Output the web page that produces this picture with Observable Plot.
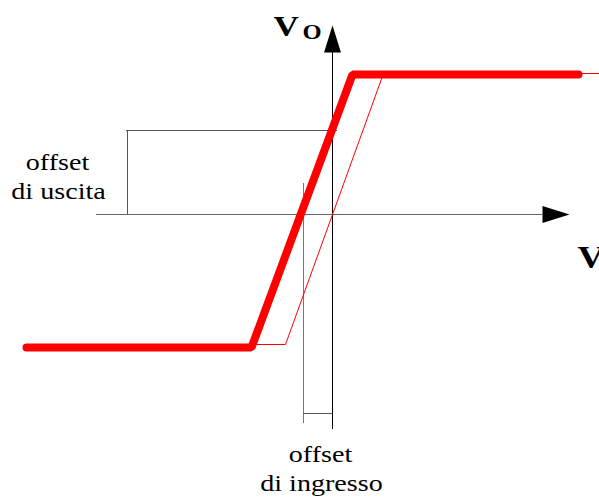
<!DOCTYPE html>
<html>
<head>
<meta charset="utf-8">
<script src="https://cdn.jsdelivr.net/npm/d3@7"></script>
<script src="https://cdn.jsdelivr.net/npm/@observablehq/plot@0.6"></script>
<style>
  html, body { margin: 0; padding: 0; background: #fff; overflow: hidden; }
  svg text { font-family: "Liberation Serif", serif; }
</style>
</head>
<body>
<div id="chart"></div>
<script>
// Transfer characteristic of an op-amp with offsets (units)
const vinIdeal  = [-306, -47, 51, 267];
const voutIdeal = [-130, -130, 141, 141];
const vinReal   = [-306, -81, 20, 246];
const voutReal  = [-133, -133, 140, 140];

const inputOffset  = -29;  // offset di ingresso (Vi where real Vo = 0)
const outputOffset = 84;   // offset di uscita (Vo at Vi = 0)

// axis extents
const xAxisFrom = -236, xAxisTo = 210;
const yAxisFrom = -215, yAxisTo = 162;

// annotation labels
const labelTexts = ["offset", "di uscita", "offset", "di ingresso"];
const labelX     = [-275, -274, -12, -11];
const labelY     = [45, 16, -247, -276];

const ideal = vinIdeal.map((v, i) => ({vi: v, vo: voutIdeal[i]}));
const real  = vinReal.map((v, i) => ({vi: v, vo: voutReal[i]}));
const labels = labelTexts.map((t, i) => ({t, x: labelX[i], y: labelY[i]}));

const arrowHead = {
  draw(ctx) {
    ctx.moveTo(0, -27);
    ctx.lineTo(8.5, 0);
    ctx.lineTo(-8.5, 0);
    ctx.closePath();
  }
};

const serif = "Liberation Serif";

const plot = Plot.plot({
  width: 599,
  height: 500,
  margin: 0,
  style: {fontFamily: serif, background: "#fff"},
  x: {domain: [-332, 267], axis: null},
  y: {domain: [-286, 214], axis: null},
  marks: [
    // axes
    Plot.ruleY([0], {x1: xAxisFrom, x2: xAxisTo, stroke: "#666", strokeWidth: 1}),
    Plot.ruleX([0], {y1: yAxisFrom, y2: yAxisTo, stroke: "#000", strokeWidth: 1}),
    Plot.dot([{x: 0, y: yAxisTo}], {x: "x", y: "y", symbol: arrowHead, fill: "#000", stroke: null}),
    Plot.dot([{x: xAxisTo, y: 0}], {x: "x", y: "y", symbol: arrowHead, rotate: 90, fill: "#000", stroke: null}),
    // output offset bracket
    Plot.ruleY([outputOffset], {x1: -206, x2: 5, stroke: "#555", strokeWidth: 1}),
    Plot.ruleX([-205], {y1: 0, y2: outputOffset, stroke: "#555", strokeWidth: 1}),
    // input offset bracket
    Plot.ruleX([inputOffset], {y1: 31, y2: -209, stroke: "#777", strokeWidth: 1}),
    Plot.ruleY([-199], {x1: inputOffset, x2: 0, stroke: "#555", strokeWidth: 1}),
    // characteristics
    Plot.line(ideal, {x: "vi", y: "vo", stroke: "#ff0000", strokeWidth: 1}),
    Plot.line(real, {x: "vi", y: "vo", stroke: "#ff0000", strokeWidth: 8, strokeLinejoin: "miter"}),
    // labels
    Plot.text(labels, {x: "x", y: "y", text: "t", fontFamily: serif, fontSize: 24, fill: "#000", textAnchor: "middle", lineAnchor: "bottom"}),
    Plot.text(["V"], {x: -59, y: 179, text: d => d, fontFamily: serif, fontSize: 30, fontWeight: "bold", textAnchor: "start", lineAnchor: "bottom", fill: "#000"}),
    Plot.text(["O"], {x: -30, y: 176, text: d => d, fontFamily: serif, fontSize: 21, fontWeight: "bold", textAnchor: "start", lineAnchor: "bottom", fill: "#000"}),
    Plot.text(["V"], {x: 245, y: -53, text: d => d, fontFamily: serif, fontSize: 32, fontWeight: "bold", textAnchor: "start", lineAnchor: "bottom", fill: "#000"}),
    Plot.text(["I"], {x: 267, y: -61, text: d => d, fontFamily: serif, fontSize: 21, fontWeight: "bold", textAnchor: "start", lineAnchor: "bottom", fill: "#000"})
  ]
});

document.getElementById("chart").appendChild(plot);

// horizontal stretch of the lettering, as in the reference
d3.select(plot).selectAll("text").each(function() {
  const len = this.getComputedTextLength();
  if (len > 0) {
    this.setAttribute("textLength", (len * 1.17).toFixed(1));
    this.setAttribute("lengthAdjust", "spacingAndGlyphs");
  }
});
</script>
</body>
</html>
